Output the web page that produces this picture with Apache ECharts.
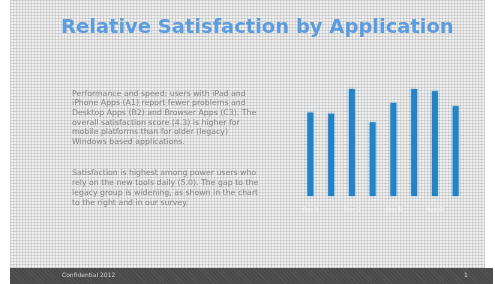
<!DOCTYPE html>
<html>
<head>
<meta charset="utf-8">
<script src="https://cdn.jsdelivr.net/npm/echarts@6/dist/echarts.min.js"></script>
<style>
  html, body { margin: 0; padding: 0; background: #fff; }
  #wrap { position: relative; width: 495px; height: 284px; overflow: hidden; }
  #paper {
    position: absolute; left: 10px; top: 0; width: 475px; height: 268px;
    background-color: #efefef;
    background-image:
      repeating-linear-gradient(90deg, rgba(0,0,0,0.10) 0 1px, transparent 1px 3px),
      repeating-linear-gradient(0deg, rgba(0,0,0,0.10) 0 1px, transparent 1px 3px);
  }
  #footer {
    position: absolute; left: 10px; top: 268px; width: 483px; height: 16px;
    background-color: #4a4a4a;
    background-image: repeating-linear-gradient(45deg, rgba(255,255,255,0.05) 0 1px, transparent 1px 3px);
  }
  #chart { position: absolute; left: 0; top: 0; width: 495px; height: 284px; }
</style>
</head>
<body>
<div id="wrap">
  <div id="paper"></div>
  <div id="footer"></div>
  <div id="chart"></div>
</div>
<script>
// data
const apps = ["App A", "App B", "App C", "App D", "App E", "App F", "App G", "App H"];
const satisfaction = [3.9, 3.85, 5.0, 3.45, 4.35, 5.0, 4.9, 4.2];

const para1 = [
  "Performance and speed: users with iPad and",
  "iPhone Apps (A1) report fewer problems and",
  "Desktop Apps (B2) and Browser Apps (C3). The",
  "overall satisfaction score (4.3) is higher for",
  "mobile platforms than for older (legacy)",
  "Windows based applications."
];
const para2 = [
  "Satisfaction is highest among power users who",
  "rely on the new tools daily (5.0). The gap to the",
  "legacy group is widening, as shown in the chart",
  "to the right and in our survey."
];

function textLines(lines, x, y0, step) {
  return lines.map((t, i) => ({
    type: "text",
    left: x,
    top: y0 + i * step,
    style: { text: t, fill: "#858585", font: "7.8px 'DejaVu Sans'" }
  }));
}

const chart = echarts.init(document.getElementById("chart"));
chart.setOption({
  animation: false,
  backgroundColor: "transparent",
  grid: { left: 300, top: 89, width: 166, height: 107 },
  xAxis: {
    type: "category",
    data: apps,
    axisLine: { show: false },
    axisTick: { show: false },
    axisLabel: { color: "rgba(255,255,255,0.6)", fontSize: 6, margin: 10 }
  },
  yAxis: {
    type: "value",
    min: 0,
    max: 5,
    show: false
  },
  series: [
    {
      type: "bar",
      data: satisfaction,
      barWidth: 6,
      itemStyle: {
        color: "#2383c4",
        shadowColor: "rgba(90,170,235,0.7)",
        shadowBlur: 3
      }
    }
  ],
  graphic: [
    {
      type: "text",
      left: 61,
      top: 18,
      style: {
        text: "Relative Satisfaction by Application",
        fill: "#5b9de0",
        font: "bold 19.5px 'DejaVu Sans'",
        shadowColor: "rgba(120,180,240,0.6)",
        shadowBlur: 2
      }
    },
    ...textLines(para1, 72, 89.5, 9.7),
    ...textLines(para2, 72, 168.5, 10.2),
    {
      type: "text",
      left: 62,
      top: 272,
      style: { text: "Confidential 2012", fill: "#cfcfcf", font: "6px 'DejaVu Sans'" }
    },
    {
      type: "text",
      left: 464,
      top: 272,
      style: { text: "1", fill: "#dcdcdc", font: "6px 'DejaVu Sans'" }
    }
  ]
});
</script>
</body>
</html>
